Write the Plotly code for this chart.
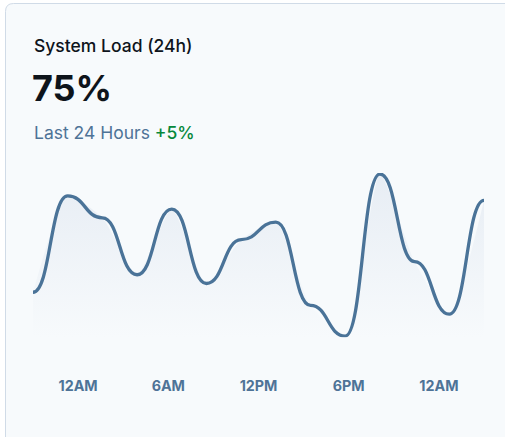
import plotly.graph_objects as go

# ---- data ----
hours = list(range(14))
load = [41, 129, 109, 57, 117, 49, 89, 105, 29, 1, 149, 69, 21, 125]
tick_positions = [1.3, 3.9, 6.5, 9.1, 11.7]
tick_labels = ["12AM", "6AM", "12PM", "6PM", "12AM"]

W, H = 505, 437
FONT = "Inter, 'Noto Sans', sans-serif"
BLUE = "#4a7398"

def px(x):
    return x / W

def py(y):
    return 1 - y / H

fig = go.Figure()
# area fill (line drawn below as a smooth path through the same data, in data coordinates)
fig.add_trace(go.Scatter(
    x=hours, y=load, mode="lines",
    line=dict(color="rgba(0,0,0,0)", width=0, shape="spline", smoothing=0.55),
    fill="tozeroy",
    fillgradient=dict(type="vertical",
                      colorscale=[[0, "rgba(231,237,244,0)"], [1, "rgba(231,237,244,1)"]]),
    hoverinfo="skip", showlegend=False,
))

# smooth curve with horizontal tangents at each data point
seg = [f"M {hours[0]},{load[0]}"]
for i in range(len(hours) - 1):
    xm = (hours[i] + hours[i + 1]) / 2
    seg.append(f"C {xm},{load[i]} {xm},{load[i + 1]} {hours[i + 1]},{load[i + 1]}")
fig.add_shape(type="path", path=" ".join(seg), xref="x", yref="y",
              line=dict(color=BLUE, width=3.3), fillcolor="rgba(0,0,0,0)", layer="above")

# card
r = 8
x0, y0, x1, y1 = 5.5, 3.5, 515, 460
card_path = (
    f"M {px(x0)} {py(y1)} L {px(x0)} {py(y0 + r)} "
    f"Q {px(x0)} {py(y0)} {px(x0 + r)} {py(y0)} "
    f"L {px(x1 - r)} {py(y0)} Q {px(x1)} {py(y0)} {px(x1)} {py(y0 + r)} "
    f"L {px(x1)} {py(y1)} Z"
)
fig.add_shape(type="path", path=card_path, xref="paper", yref="paper",
              fillcolor="#f7fafc", line=dict(color="#d0dbe7", width=1), layer="below")

fig.add_annotation(x=px(32), y=py(45), xref="paper", yref="paper", xanchor="left", yanchor="middle",
                   text="System Load (24h)", showarrow=False,
                   font=dict(family=FONT, size=17.5, color="#0e141b", weight=500))
fig.add_annotation(x=px(30), y=py(88), xref="paper", yref="paper", xanchor="left", yanchor="middle",
                   text="75%", showarrow=False,
                   font=dict(family=FONT, size=36, color="#0e141b", weight=700))
fig.add_annotation(x=px(32), y=py(132), xref="paper", yref="paper", xanchor="left", yanchor="middle",
                   text="Last 24 Hours <span style='color:#07883b;font-weight:500'>+5%</span>",
                   showarrow=False,
                   font=dict(family=FONT, size=17.5, color="#4e7397"))

ytop = 174 - 1.095
ybot = 174 + 149 * 1.095
fig.update_layout(
    width=W, height=H,
    margin=dict(l=0, r=0, t=0, b=0),
    paper_bgcolor="white", plot_bgcolor="rgba(0,0,0,0)",
    xaxis=dict(domain=[px(33), px(484)], range=[0, 13], showgrid=False, zeroline=False,
               showline=False, tickvals=tick_positions, ticktext=tick_labels, ticks="",
               ticklabelstandoff=39,
               tickfont=dict(family=FONT, size=14.3, color="#4e7397", weight=700), fixedrange=True),
    yaxis=dict(domain=[py(ybot), py(ytop)], range=[0, 150], visible=False, fixedrange=True),
    showlegend=False,
)

fig.write_html("out.html", config={"displayModeBar": False},
               post_script="document.body.style.margin='0';document.body.style.overflow='hidden';")
